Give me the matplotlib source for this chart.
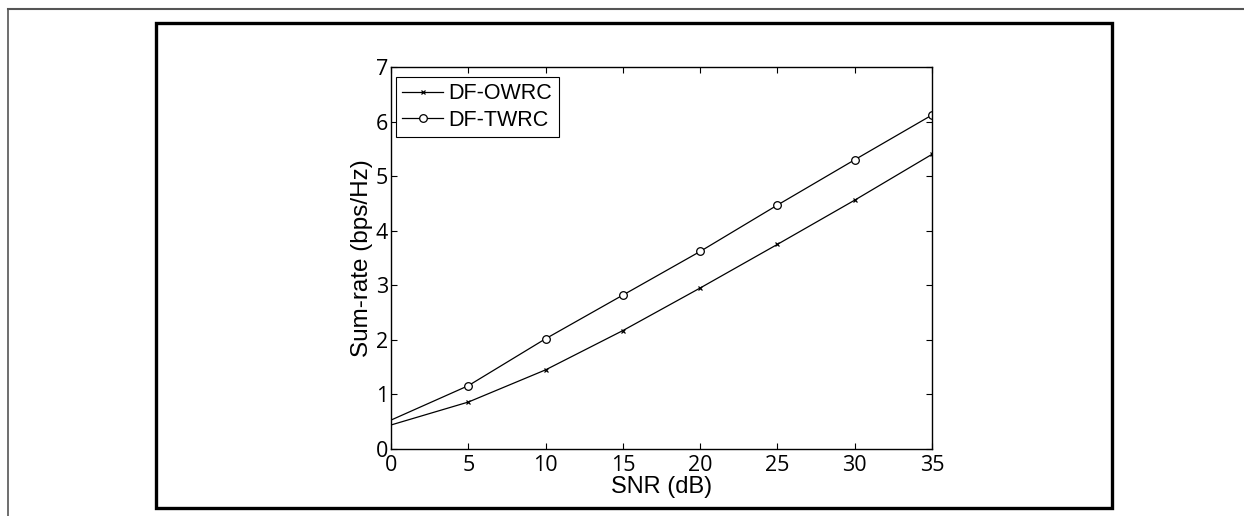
import matplotlib.pyplot as plt
from matplotlib.lines import Line2D
from matplotlib.patches import Rectangle

snr_db = [0, 5, 10, 15, 20, 25, 30, 35]
df_owrc = [0.44, 0.86, 1.45, 2.17, 2.95, 3.75, 4.56, 5.40]
df_twrc = [0.53, 1.16, 2.02, 2.82, 3.62, 4.47, 5.30, 6.12]

x_ticks = [0, 5, 10, 15, 20, 25, 30, 35]
y_ticks = [0, 1, 2, 3, 4, 5, 6, 7]

TICK_FONT = "Open Sans"
LABEL_FONT = "Liberation Sans"

fig = plt.figure(figsize=(12.44, 5.16), dpi=100)

# page frame lines (thin top and left) and the thick figure box
fig.add_artist(Line2D([8 / 1244, 1], [1 - 9 / 516, 1 - 9 / 516],
                      transform=fig.transFigure, color="#555555", lw=1.5))
fig.add_artist(Line2D([8 / 1244, 8 / 1244], [0, 1 - 9 / 516],
                      transform=fig.transFigure, color="#555555", lw=1.2))
fig.add_artist(Rectangle((156 / 1244, 1 - 508 / 516), (1112 - 156) / 1244,
                         (508 - 23) / 516, transform=fig.transFigure,
                         fill=False, edgecolor="black", lw=2.4))

ax = fig.add_axes([391 / 1244, 1 - 449 / 516, 541 / 1244, 382 / 516])

# no marker drawn at SNR = 0
ax.plot(snr_db, df_owrc, color="black", lw=0.9, marker="x", markersize=3.5,
        markeredgewidth=0.9, markevery=slice(1, None), label="DF-OWRC")
ax.plot(snr_db, df_twrc, color="black", lw=0.9, marker="o", markersize=5.5,
        markerfacecolor="white", markeredgewidth=0.9,
        markevery=slice(1, None), label="DF-TWRC")

ax.set_xlim(0, 35)
ax.set_ylim(0, 7)
ax.set_xticks(x_ticks)
ax.set_yticks(y_ticks)
ax.tick_params(direction="in", length=4, width=0.8, top=True, right=True,
               labelsize=15.5, pad=2)
ax.tick_params(axis="x", pad=4.5)
for lab in ax.get_xticklabels() + ax.get_yticklabels():
    lab.set_family(TICK_FONT)
for sp in ax.spines.values():
    sp.set_linewidth(1.0)

ax.set_xlabel("SNR (dB)", fontsize=17, family=LABEL_FONT, labelpad=0)
ax.set_ylabel("Sum-rate (bps/Hz)", fontsize=17.5, family=LABEL_FONT, labelpad=2)

leg = ax.legend(loc="upper left", bbox_to_anchor=(0.009, 0.974),
                prop={"family": LABEL_FONT, "size": 15.5},
                handlelength=1.9, handletextpad=0.25, borderpad=0.3,
                labelspacing=0.25, borderaxespad=0, fancybox=False,
                framealpha=1, edgecolor="black")
leg.get_frame().set_linewidth(0.8)

fig.savefig("out.png", dpi=100)
